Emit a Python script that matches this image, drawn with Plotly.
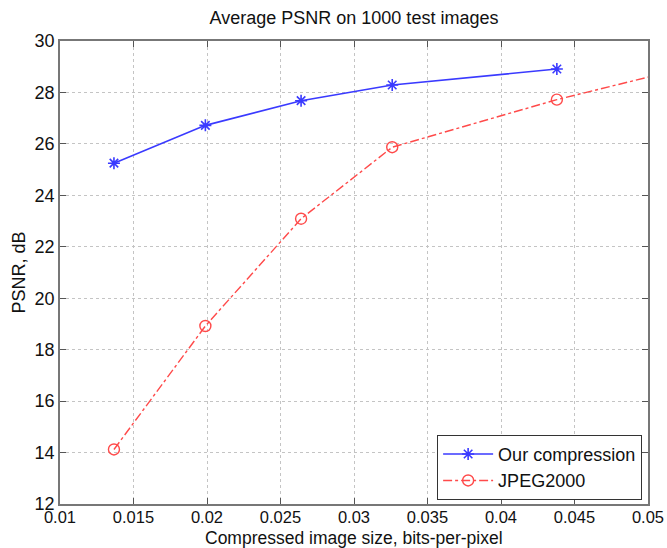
import plotly.graph_objects as go

# Data
bpp_ours = [0.01367, 0.01989, 0.0264, 0.0326, 0.0438]
psnr_ours = [25.25, 26.72, 27.68, 28.29, 28.91]

bpp_jpeg = [0.01367, 0.01989, 0.0264, 0.0326, 0.0438, 0.055]
psnr_jpeg = [14.12, 18.92, 23.09, 25.87, 27.72, 29.3]

x_ticks = [0.01, 0.015, 0.02, 0.025, 0.03, 0.035, 0.04, 0.045, 0.05]
x_ticktext = ["0.01", "0.015", "0.02", "0.025", "0.03", "0.035", "0.04", "0.045", "0.05"]
y_ticks = [12, 14, 16, 18, 20, 22, 24, 26, 28, 30]

FONT = "Liberation Sans, Arial, Helvetica, sans-serif"

fig = go.Figure()
fig.add_trace(go.Scatter(
    x=bpp_ours, y=psnr_ours, name="Our compression",
    mode="lines+markers",
    line=dict(color="#3a3aff", width=1.6),
    marker=dict(symbol="asterisk-open", size=10, color="#3a3aff",
                line=dict(color="#3a3aff", width=1.6)),
))
fig.add_trace(go.Scatter(
    x=bpp_jpeg, y=psnr_jpeg, name="JPEG2000",
    mode="lines+markers",
    line=dict(color="#ff4a4a", width=1.4, dash="dashdot"),
    marker=dict(symbol="circle-open", size=11, color="#ff4a4a",
                line=dict(color="#ff4a4a", width=1.4)),
))

axis_common = dict(
    showline=True, linecolor="#777777", linewidth=1.5, mirror="allticks",
    ticks="inside", ticklen=6, tickcolor="#555555", tickwidth=1,
    showgrid=True, gridcolor="#c4c4c4", griddash="dot", gridwidth=1,
    zeroline=False, automargin=False,
)

fig.update_xaxes(
    range=[0.01, 0.05], tickvals=x_ticks, ticktext=x_ticktext,
    tickfont=dict(family=FONT, size=16.5, color="#111111"),
    ticklabelstandoff=-3,
    **axis_common,
)
fig.update_yaxes(
    range=[12, 30], tickvals=y_ticks,
    tickfont=dict(family=FONT, size=18, color="#111111"),
    title=dict(text="PSNR, dB",
               font=dict(family=FONT, size=18, color="#111111"), standoff=4),
    **axis_common,
)

fig.add_annotation(
    text="Compressed image size, bits-per-pixel",
    xref="paper", yref="paper", x=0.5, y=-(549 - 504) / 463,
    xanchor="center", yanchor="bottom", showarrow=False, borderpad=0,
    font=dict(family=FONT, size=17.5, color="#111111"),
)

fig.update_layout(
    width=667, height=548,
    margin=dict(l=60, r=19, t=41, b=44),
    paper_bgcolor="white", plot_bgcolor="white",
    title=dict(text="Average PSNR on 1000 test images",
               font=dict(family=FONT, size=18, color="#111111"),
               x=0.5, xref="paper", xanchor="center",
               y=0.967, yref="container", yanchor="middle"),
    legend=dict(
        x=0.99, y=0.009, xanchor="right", yanchor="bottom",
        bgcolor="white", bordercolor="#333333", borderwidth=1,
        font=dict(family=FONT, size=18, color="#111111"),
        tracegroupgap=0, itemwidth=50,
    ),
    showlegend=True,
)

fig.write_html("out.html",
               config={"displayModeBar": False},
               post_script="document.body.style.margin='0';document.body.style.overflow='hidden';")
